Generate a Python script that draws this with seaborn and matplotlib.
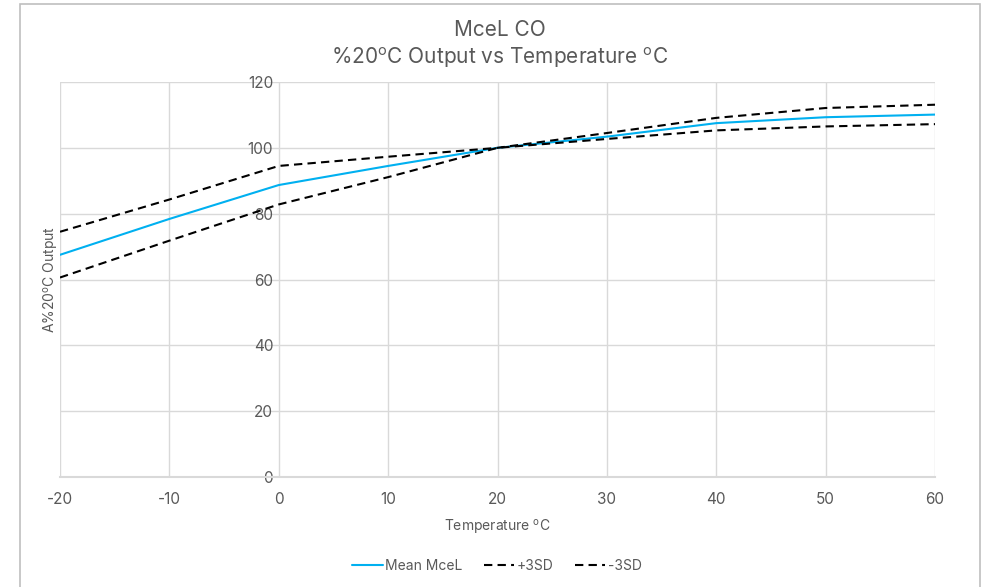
import pandas as pd
import matplotlib
matplotlib.use("Agg")
import matplotlib.pyplot as plt
import seaborn as sns
from matplotlib.patches import Rectangle

# -------------------- DATA --------------------
temps = [-20, -10, 0, 10, 20, 30, 40, 50, 60]
mean_mcel = [67.5, 78.4, 88.7, 94.5, 100.0, 103.4, 107.5, 109.3, 110.1]
plus_3sd = [74.5, 84.3, 94.5, 97.3, 100.0, 104.5, 109.1, 112.1, 113.1]
minus_3sd = [60.6, 71.8, 82.8, 91.1, 100.0, 102.7, 105.3, 106.5, 107.2]
series_names = ["Mean MceL", "+3SD", "-3SD"]

rows = []
for name, vals in zip(series_names, [mean_mcel, plus_3sd, minus_3sd]):
    for t, v in zip(temps, vals):
        rows.append({"temp": t, "output": v, "series": name})
df = pd.DataFrame(rows)

# -------------------- PLOT --------------------
sns.set_style("white")
plt.rcParams['font.family'] = ['Inter', 'DejaVu Sans']
plt.rcParams['axes.unicode_minus'] = False
plt.rcParams['mathtext.fontset'] = 'custom'
plt.rcParams['mathtext.rm'] = 'Inter'
TEXT = "#595959"
GRID = "#d9d9d9"
DEG = r"$^{\rm o}$"

fig = plt.figure(figsize=(9.84, 5.87), dpi=100)
ax = fig.add_axes([60 / 984, 1 - 477 / 587, 875 / 984, 395 / 587])

# chart area border like the Excel frame
fig.patches.append(Rectangle((20 / 984, -0.05), 960 / 984, 1.05 - 3.5 / 587,
                             transform=fig.transFigure, fill=False,
                             edgecolor="#bfbfbf", linewidth=1.2))

palette = {"Mean MceL": "#00b0f0", "+3SD": "black", "-3SD": "black"}
dashes = {"Mean MceL": "", "+3SD": (4, 2.5), "-3SD": (4, 2.5)}
sns.lineplot(data=df, x="temp", y="output", hue="series", style="series",
             palette=palette, dashes=dashes, linewidth=1.5, ax=ax,
             legend=False, zorder=3)

ax.set_xlim(-20, 60)
ax.set_ylim(0, 120)
ax.set_xticks(range(-20, 61, 10))
ax.set_yticks(range(0, 121, 20))
ax.grid(True, color=GRID, linewidth=1)

for side in ["top", "right"]:
    ax.spines[side].set_visible(False)
ax.spines["left"].set_position(("data", 0))
ax.spines["left"].set_color("none")
ax.spines["bottom"].set_color(GRID)
ax.spines["bottom"].set_linewidth(1.5)

ax.tick_params(axis="both", length=0, labelsize=11, labelcolor=TEXT)
ax.tick_params(axis="x", pad=11)
ax.tick_params(axis="y", pad=4)

ax.set_xlabel("Temperature " + DEG + "C", fontsize=10, color=TEXT, labelpad=8)
ax.set_ylabel("A%20" + DEG + "C Output", fontsize=10, color=TEXT)
ax.yaxis.set_label_coords(0.001, 0.5)

fig.text(0.508, 1 - 30 / 587, "MceL CO", ha="center", va="center",
         fontsize=15, color=TEXT)
fig.text(0.508, 1 - 58 / 587, "%20" + DEG + "C Output vs Temperature " + DEG + "C",
         ha="center", va="center", fontsize=15, color=TEXT)

handles = [
    plt.Line2D([], [], color="#00b0f0", linewidth=1.5),
    plt.Line2D([], [], color="black", linewidth=1.5, linestyle=(0, (4, 2.5))),
    plt.Line2D([], [], color="black", linewidth=1.5, linestyle=(0, (4, 2.5))),
]
fig.legend(handles, series_names, loc="center", bbox_to_anchor=(0.505, 1 - 566 / 587),
           ncol=3, frameon=False, fontsize=10, labelcolor=TEXT,
           handlelength=2.2, handletextpad=0.2, columnspacing=1.5)

fig.savefig("out.png", dpi=100)
